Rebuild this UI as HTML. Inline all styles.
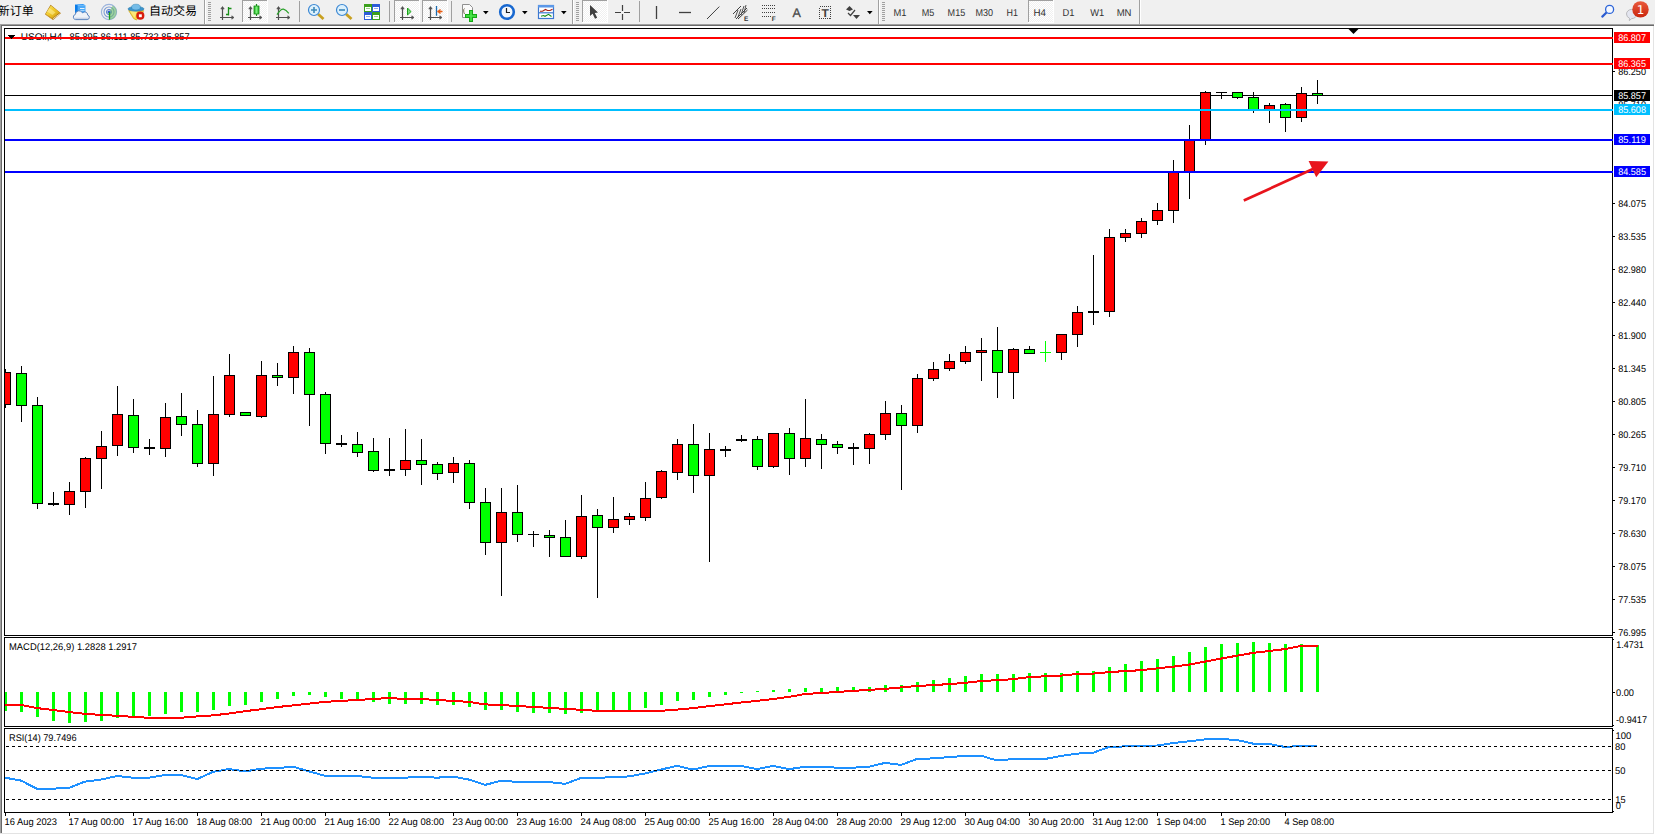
<!DOCTYPE html>
<html lang="zh"><head><meta charset="utf-8"><title>USOil,H4</title>
<style>html,body{margin:0;padding:0;background:#fff;}body{width:1655px;height:835px;overflow:hidden;position:relative;}svg{position:absolute;left:0;top:0;display:block;font-family:"Liberation Sans", "Noto Sans CJK SC", sans-serif;}svg text{white-space:pre;text-rendering:geometricPrecision;}</style></head><body>
<svg width="1655" height="835" viewBox="0 0 1655 835">
<g shape-rendering="crispEdges">
<rect x="0" y="0" width="1655" height="835" fill="#fff"/>
<rect x="0" y="0" width="1654" height="24" fill="#f0f0f0"/>
<rect x="0" y="24" width="1654" height="1" fill="#a0a0a0"/>
<rect x="0" y="25" width="1654" height="1" fill="#696969"/>
<rect x="0" y="24" width="1" height="810" fill="#a0a0a0"/>
<rect x="1" y="25" width="1" height="809" fill="#696969"/>
<rect x="1653" y="26" width="1" height="808" fill="#e3e3e3"/>
<rect x="0" y="833" width="1654" height="1" fill="#e3e3e3"/>
<rect x="1654" y="0" width="1" height="24" fill="#f0f0f0"/>
</g>
<defs><pattern id="chk" width="2" height="2" patternUnits="userSpaceOnUse"><rect width="2" height="2" fill="#f0f0f0"/><rect width="1" height="1" fill="#fff"/><rect x="1" y="1" width="1" height="1" fill="#fff"/></pattern><linearGradient id="gold" x1="0" y1="0" x2="1" y2="1"><stop offset="0" stop-color="#f8e468"/><stop offset="0.5" stop-color="#f0c828"/><stop offset="1" stop-color="#c89414"/></linearGradient><linearGradient id="redc" x1="0" y1="0" x2="0" y2="1"><stop offset="0" stop-color="#ea5a3c"/><stop offset="1" stop-color="#c9260e"/></linearGradient><linearGradient id="grn" x1="0" y1="0" x2="1" y2="0"><stop offset="0" stop-color="#1fae1f"/><stop offset="0.5" stop-color="#7cf07c"/><stop offset="1" stop-color="#1fae1f"/></linearGradient></defs>
<text x="-2.3" y="15" font-size="12" fill="#000">新订单</text>
<g><polygon points="50.6,4.8 61,13.3 53,20 45,14.3" fill="#a8700c"/><polygon points="50.8,5.4 59.8,12.4 52.3,18.2 45.6,13.9" fill="url(#gold)"/><polygon points="49.5,8 55.5,12.6 52.5,15 47,11.5" fill="#fff0a0" opacity="0.55"/><path d="M52.8,18.9L60.4,13.4" stroke="#f4e4b4" stroke-width="0.9"/><path d="M46,14.6L52.4,19" stroke="#d8a838" stroke-width="0.8"/></g>
<g><polygon points="75,4.5 83,4.1 85.5,5.3 77.9,5.3" fill="#2c98f8"/><polygon points="75,4.5 77.9,5.3 77.9,13.5 75,12.8" fill="#0a7ce8"/><rect x="77.9" y="5.3" width="7.6" height="8" fill="#4caaf8"/><rect x="80" y="8" width="4.5" height="1" fill="#e4f2ff"/><rect x="80" y="10" width="4.5" height="0.8" fill="#b4dcff"/><path d="M75.6,19.6 a2.6,2.6 0 0 1 -0.3,-5.1 a3.8,3.8 0 0 1 7.2,-1.6 a3,3 0 0 1 5.2,2.2 a2.3,2.3 0 0 1 -0.6,4.5z" fill="#eef2f8" stroke="#4c78b8" stroke-width="0.9"/><path d="M74.5,18.3H88" stroke="#c4d0e4" stroke-width="1.2"/></g>
<g fill="none"><circle cx="109" cy="12" r="7.6" stroke="#9cb4dc" stroke-width="1.1"/><circle cx="109" cy="12" r="5" stroke="#7c9cd4" stroke-width="1.1"/><circle cx="109" cy="12" r="2.6" stroke="#5c84cc" stroke-width="1"/><path d="M109,12 L112.8,5.4 A7.6,7.6 0 0 1 109,19.6z" fill="#6cbc6c" opacity="0.6"/><circle cx="109" cy="12" r="1.6" fill="#2c5cd0"/><path d="M109.5,12V19.6" stroke="#18a018" stroke-width="1.3"/></g>
<g><polygon points="128.7,10.6 143.6,10.6 141.7,15.3 136.3,19.9 133.7,18.6" fill="#f8d840" stroke="#c8a010" stroke-width="0.7"/><polygon points="130,11 137,11 134.5,18" fill="#fff4a0" opacity="0.6"/><ellipse cx="136" cy="8.9" rx="8" ry="2.4" fill="#3c94cc" stroke="#2878a8" stroke-width="0.5"/><ellipse cx="136" cy="7.1" rx="4.4" ry="2.9" fill="#74bce8" stroke="#2c80b4" stroke-width="0.5"/><circle cx="140.3" cy="15.7" r="4.1" fill="#d81c0c"/><rect x="138.9" y="14.3" width="2.9" height="2.9" fill="#fff"/></g>
<text x="149" y="14.9" font-size="12" fill="#000">自动交易</text>
<rect x="204" y="0" width="1" height="24" fill="#a0a0a0" shape-rendering="crispEdges"/><rect x="205" y="0" width="1" height="24" fill="#fff" shape-rendering="crispEdges"/>
<rect x="208" y="2" width="3" height="1" fill="#a0a0a0" shape-rendering="crispEdges"/>
<rect x="208" y="4" width="3" height="1" fill="#a0a0a0" shape-rendering="crispEdges"/>
<rect x="208" y="6" width="3" height="1" fill="#a0a0a0" shape-rendering="crispEdges"/>
<rect x="208" y="8" width="3" height="1" fill="#a0a0a0" shape-rendering="crispEdges"/>
<rect x="208" y="10" width="3" height="1" fill="#a0a0a0" shape-rendering="crispEdges"/>
<rect x="208" y="12" width="3" height="1" fill="#a0a0a0" shape-rendering="crispEdges"/>
<rect x="208" y="14" width="3" height="1" fill="#a0a0a0" shape-rendering="crispEdges"/>
<rect x="208" y="16" width="3" height="1" fill="#a0a0a0" shape-rendering="crispEdges"/>
<rect x="208" y="18" width="3" height="1" fill="#a0a0a0" shape-rendering="crispEdges"/>
<rect x="208" y="20" width="3" height="1" fill="#a0a0a0" shape-rendering="crispEdges"/>
<g stroke="#505050" stroke-width="1.2" fill="none"><path d="M222.5,7V20M220,17.5H233.5"/><path stroke-width="0.6" fill="#505050" d="M220.8,9 L222.5,6.5 L224.2,9zM231.8,15.8 L234,17.5 L231.8,19.2z"/></g>
<path d="M228.5,7V15.5M228.5,8.5H231.5M226,14.5H228.5" stroke="#189018" stroke-width="1.3" fill="none"/>
<g shape-rendering="crispEdges"><rect x="242" y="0" width="25" height="22" fill="url(#chk)"/><rect x="242" y="0" width="25" height="1" fill="#a0a0a0"/><rect x="242" y="0" width="1" height="22" fill="#a0a0a0"/><rect x="242" y="22" width="26" height="1" fill="#fff"/><rect x="267" y="0" width="1" height="22" fill="#fff"/></g>
<g stroke="#505050" stroke-width="1.2" fill="none"><path d="M250.5,7V20M248,17.5H261.5"/><path stroke-width="0.6" fill="#505050" d="M248.8,9 L250.5,6.5 L252.2,9zM259.8,15.8 L262,17.5 L259.8,19.2z"/></g>
<path d="M256.5,4V16" stroke="#189018" stroke-width="1.2"/><rect x="254" y="6" width="5" height="8" fill="url(#grn)" stroke="#189018" stroke-width="0.8"/>
<g stroke="#505050" stroke-width="1.2" fill="none"><path d="M278.5,7V20M276,17.5H289.5"/><path stroke-width="0.6" fill="#505050" d="M276.8,9 L278.5,6.5 L280.2,9zM287.8,15.8 L290,17.5 L287.8,19.2z"/></g>
<path d="M277,14.6 Q281,8.6 283.5,9.2 T288.8,13.3" stroke="#28a028" stroke-width="1.2" fill="none"/>
<rect x="299" y="1" width="1" height="21" fill="#a0a0a0" shape-rendering="crispEdges"/>
<g><path d="M318,14 L323.5,19" stroke="#c8a020" stroke-width="2.8" stroke-linecap="butt"/><circle cx="314" cy="10" r="5.5" fill="#dcf0fc" stroke="#3c88d4" stroke-width="1.2"/><path d="M311,10H317M314,7V13" stroke="#3c88b8" stroke-width="1.6"/></g>
<g><path d="M346,14 L351.5,19" stroke="#c8a020" stroke-width="2.8" stroke-linecap="butt"/><circle cx="342" cy="10" r="5.5" fill="#dcf0fc" stroke="#3c88d4" stroke-width="1.2"/><path d="M339,10H345" stroke="#3c88b8" stroke-width="1.6"/></g>
<g shape-rendering="crispEdges"><rect x="364" y="4" width="8" height="8" fill="#3ca01c"/><rect x="372" y="4" width="8" height="8" fill="#2c5cd8"/><rect x="364" y="12" width="8" height="8" fill="#2c5cd8"/><rect x="372" y="12" width="8" height="8" fill="#3ca01c"/><rect x="365" y="7" width="6" height="4" fill="#fff"/><rect x="373" y="7" width="6" height="4" fill="#fff"/><rect x="365" y="15" width="6" height="4" fill="#fff"/><rect x="373" y="15" width="6" height="4" fill="#fff"/><rect x="366" y="8" width="4" height="1" fill="#9cd48c"/><rect x="374" y="8" width="4" height="1" fill="#8cacf0"/><rect x="366" y="16" width="4" height="1" fill="#8cacf0"/><rect x="374" y="16" width="4" height="1" fill="#9cd48c"/></g>
<rect x="389" y="1" width="1" height="21" fill="#a0a0a0" shape-rendering="crispEdges"/>
<g shape-rendering="crispEdges"><rect x="394" y="0" width="25" height="22" fill="url(#chk)"/><rect x="394" y="0" width="25" height="1" fill="#a0a0a0"/><rect x="394" y="0" width="1" height="22" fill="#a0a0a0"/><rect x="394" y="22" width="26" height="1" fill="#fff"/><rect x="419" y="0" width="1" height="22" fill="#fff"/></g>
<g stroke="#505050" stroke-width="1.2" fill="none"><path d="M402.5,7V20M400,17.5H413.5"/><path stroke-width="0.6" fill="#505050" d="M400.8,9 L402.5,6.5 L404.2,9zM411.8,15.8 L414,17.5 L411.8,19.2z"/></g>
<polygon points="407.5,8 411,11.6 407.5,15" fill="#7ce07c" stroke="#18a018" stroke-width="1"/>
<g shape-rendering="crispEdges"><rect x="422" y="0" width="25" height="22" fill="url(#chk)"/><rect x="422" y="0" width="25" height="1" fill="#a0a0a0"/><rect x="422" y="0" width="1" height="22" fill="#a0a0a0"/><rect x="422" y="22" width="26" height="1" fill="#fff"/><rect x="447" y="0" width="1" height="22" fill="#fff"/></g>
<g stroke="#505050" stroke-width="1.2" fill="none"><path d="M430.5,7V20M428,17.5H441.5"/><path stroke-width="0.6" fill="#505050" d="M428.8,9 L430.5,6.5 L432.2,9zM439.8,15.8 L442,17.5 L439.8,19.2z"/></g>
<path d="M436.5,6V15.8" stroke="#1c6cb0" stroke-width="1.3"/><path d="M437.5,11.5H442.5M440.5,9.5L438,11.5L440.5,13.5" stroke="#e85c10" stroke-width="1.3" fill="none"/>
<rect x="451" y="1" width="1" height="21" fill="#a0a0a0" shape-rendering="crispEdges"/>
<g><path d="M462.5,4.5H469.5L472.5,7.5V17.5H462.5z" fill="#fafafa" stroke="#909090" stroke-width="1"/><path d="M464.5,8.5C463,9 463.8,13 464.5,14" stroke="#686040" fill="none" stroke-width="0.9"/><path d="M471,10V22M465,16H477" stroke="#14a814" stroke-width="4"/><path d="M471,11V21M466,16H476" stroke="#4ce84c" stroke-width="1.6"/></g>
<polygon points="483,11.1 488.6,11.1 485.8,14.3" fill="#000"/>
<g><circle cx="507" cy="12" r="6.8" fill="#f4f8fc" stroke="#1868d0" stroke-width="2.6"/><path d="M506.5,8V12.5H510" stroke="#202020" stroke-width="1.2" fill="none"/></g>
<polygon points="522,11.1 527.6,11.1 524.8,14.3" fill="#000"/>
<g><rect x="538.5" y="5.5" width="15" height="13" fill="#fff" stroke="#3c78d0" stroke-width="1.2"/><rect x="538" y="5" width="16" height="2.5" fill="#5c98e8"/><path d="M538,12.8H554" stroke="#3c78d0" stroke-width="1.2"/><path d="M540,11.3H542.5L545.5,9.5L547.5,10.5H550L552.5,9.3" stroke="#a82010" stroke-width="1.1" fill="none"/><path d="M541,16.3L543.5,15.5L545,16.3L548.5,14.3L551.5,16.5" stroke="#189018" stroke-width="1.1" fill="none"/></g>
<polygon points="561,11.1 566.6,11.1 563.8,14.3" fill="#000"/>
<rect x="572" y="0" width="1" height="24" fill="#a0a0a0" shape-rendering="crispEdges"/><rect x="573" y="0" width="1" height="24" fill="#fff" shape-rendering="crispEdges"/>
<rect x="576" y="2" width="3" height="1" fill="#a0a0a0" shape-rendering="crispEdges"/>
<rect x="576" y="4" width="3" height="1" fill="#a0a0a0" shape-rendering="crispEdges"/>
<rect x="576" y="6" width="3" height="1" fill="#a0a0a0" shape-rendering="crispEdges"/>
<rect x="576" y="8" width="3" height="1" fill="#a0a0a0" shape-rendering="crispEdges"/>
<rect x="576" y="10" width="3" height="1" fill="#a0a0a0" shape-rendering="crispEdges"/>
<rect x="576" y="12" width="3" height="1" fill="#a0a0a0" shape-rendering="crispEdges"/>
<rect x="576" y="14" width="3" height="1" fill="#a0a0a0" shape-rendering="crispEdges"/>
<rect x="576" y="16" width="3" height="1" fill="#a0a0a0" shape-rendering="crispEdges"/>
<rect x="576" y="18" width="3" height="1" fill="#a0a0a0" shape-rendering="crispEdges"/>
<rect x="576" y="20" width="3" height="1" fill="#a0a0a0" shape-rendering="crispEdges"/>
<g shape-rendering="crispEdges"><rect x="582" y="0" width="25" height="22" fill="url(#chk)"/><rect x="582" y="0" width="25" height="1" fill="#a0a0a0"/><rect x="582" y="0" width="1" height="22" fill="#a0a0a0"/><rect x="582" y="22" width="26" height="1" fill="#fff"/><rect x="607" y="0" width="1" height="22" fill="#fff"/></g>
<polygon points="590,5 590,16 592.6,13.8 595,18.8 597.2,17.8 594.8,13 598,12.6" fill="#404040"/>
<path d="M615,12.5H621M624,12.5H630M622.5,5V11M622.5,14V20" stroke="#404040" stroke-width="1.2"/>
<rect x="639" y="1" width="1" height="21" fill="#a0a0a0" shape-rendering="crispEdges"/>
<path d="M656.5,6V19" stroke="#404040" stroke-width="1.3"/>
<path d="M679,12.5H691" stroke="#404040" stroke-width="1.3"/>
<path d="M707,19L719.3,6.6" stroke="#404040" stroke-width="1"/>
<g stroke="#404040" stroke-width="1" fill="none"><path d="M733,14L741,6M736,19L747,8M738,19L747.5,10"/><path d="M735,18L738,10M738,17L741,9M741,15L744,6M744,13L746,5" stroke-width="0.9"/></g>
<text x="744" y="21" font-size="6.5" font-weight="bold" fill="#303030">E</text>
<path d="M762,5.5H775.5" stroke="#404040" stroke-width="1" stroke-dasharray="1,1" shape-rendering="crispEdges"/>
<path d="M762,8.5H775.5" stroke="#404040" stroke-width="1" stroke-dasharray="1,1" shape-rendering="crispEdges"/>
<path d="M762,12.5H775.5" stroke="#404040" stroke-width="1" stroke-dasharray="1,1" shape-rendering="crispEdges"/>
<path d="M762,16.5H771" stroke="#404040" stroke-width="1" stroke-dasharray="1,1" shape-rendering="crispEdges"/>
<text x="771.8" y="21" font-size="6.5" font-weight="bold" fill="#303030">F</text>
<text x="792.5" y="17" font-size="12.5" fill="#484848" stroke="#484848" stroke-width="0.3">A</text>
<rect x="819.5" y="6.5" width="11" height="12" fill="none" stroke="#404040" stroke-width="1" stroke-dasharray="1,1" shape-rendering="crispEdges"/><text x="821.6" y="17.2" font-size="11.2" font-weight="bold" fill="#404040" textLength="7.4" lengthAdjust="spacingAndGlyphs">T</text>
<g fill="#404040"><polygon points="846,9.5 849.5,6 853,9.5 849.5,11"/><polygon points="853,15 860,15 856.5,19"/><path d="M848,13L850.5,15.5L855,10" stroke="#404040" stroke-width="1.2" fill="none"/></g>
<polygon points="867,11.1 872.6,11.1 869.8,14.3" fill="#000"/>
<rect x="878" y="0" width="1" height="24" fill="#a0a0a0" shape-rendering="crispEdges"/><rect x="879" y="0" width="1" height="24" fill="#fff" shape-rendering="crispEdges"/>
<rect x="882" y="2" width="3" height="1" fill="#a0a0a0" shape-rendering="crispEdges"/>
<rect x="882" y="4" width="3" height="1" fill="#a0a0a0" shape-rendering="crispEdges"/>
<rect x="882" y="6" width="3" height="1" fill="#a0a0a0" shape-rendering="crispEdges"/>
<rect x="882" y="8" width="3" height="1" fill="#a0a0a0" shape-rendering="crispEdges"/>
<rect x="882" y="10" width="3" height="1" fill="#a0a0a0" shape-rendering="crispEdges"/>
<rect x="882" y="12" width="3" height="1" fill="#a0a0a0" shape-rendering="crispEdges"/>
<rect x="882" y="14" width="3" height="1" fill="#a0a0a0" shape-rendering="crispEdges"/>
<rect x="882" y="16" width="3" height="1" fill="#a0a0a0" shape-rendering="crispEdges"/>
<rect x="882" y="18" width="3" height="1" fill="#a0a0a0" shape-rendering="crispEdges"/>
<rect x="882" y="20" width="3" height="1" fill="#a0a0a0" shape-rendering="crispEdges"/>
<text x="893.4" y="16" font-size="10" fill="#303030" textLength="13" lengthAdjust="spacingAndGlyphs">M1</text>
<text x="921.7" y="16" font-size="10" fill="#303030" textLength="12.6" lengthAdjust="spacingAndGlyphs">M5</text>
<text x="947.6" y="16" font-size="10" fill="#303030" textLength="17.6" lengthAdjust="spacingAndGlyphs">M15</text>
<text x="975.5" y="16" font-size="10" fill="#303030" textLength="17.6" lengthAdjust="spacingAndGlyphs">M30</text>
<text x="1006.6" y="16" font-size="10" fill="#303030" textLength="11.4" lengthAdjust="spacingAndGlyphs">H1</text>
<g shape-rendering="crispEdges"><rect x="1028" y="0" width="25" height="22" fill="url(#chk)"/><rect x="1028" y="0" width="25" height="1" fill="#a0a0a0"/><rect x="1028" y="0" width="1" height="22" fill="#a0a0a0"/><rect x="1028" y="22" width="26" height="1" fill="#fff"/><rect x="1053" y="0" width="1" height="22" fill="#fff"/></g>
<text x="1033.5" y="16" font-size="10" fill="#303030" textLength="12.5" lengthAdjust="spacingAndGlyphs">H4</text>
<text x="1062.4" y="16" font-size="10" fill="#303030" textLength="12" lengthAdjust="spacingAndGlyphs">D1</text>
<text x="1090.3" y="16" font-size="10" fill="#303030" textLength="14" lengthAdjust="spacingAndGlyphs">W1</text>
<text x="1116.7" y="16" font-size="10" fill="#303030" textLength="14.8" lengthAdjust="spacingAndGlyphs">MN</text>
<rect x="1139" y="0" width="1" height="24" fill="#a0a0a0" shape-rendering="crispEdges"/><rect x="1140" y="0" width="1" height="24" fill="#fff" shape-rendering="crispEdges"/>
<g><path d="M1606.5,12.5L1602.3,16.6" stroke="#2c5cd0" stroke-width="2.2" stroke-linecap="round"/><circle cx="1609.6" cy="9.4" r="4" fill="#f4f8ff" stroke="#2c64d8" stroke-width="1.3"/></g>
<g><path d="M1626.5,14 a5.2,4.6 0 0 1 10.4,0 a5.2,4.6 0 0 1 -5.2,4.6 l-2.4,2 l0.2,-2.4 a5,4.6 0 0 1 -3,-4.2z" fill="#e4e6f0" stroke="#b4b4b8" stroke-width="0.9"/><circle cx="1640.5" cy="9.4" r="8.2" fill="url(#redc)"/><text x="1640.5" y="13.8" font-size="12" fill="#fff" text-anchor="middle" font-family="'DejaVu Sans', sans-serif">1</text></g>
<g shape-rendering="crispEdges">
<rect x="4" y="28" width="1609" height="1" fill="#000"/>
<rect x="4" y="635" width="1609" height="1" fill="#000"/>
<rect x="4" y="28" width="1" height="608" fill="#000"/>
<rect x="1612" y="28" width="1" height="608" fill="#000"/>
<rect x="4" y="637" width="1609" height="1" fill="#000"/>
<rect x="4" y="726" width="1609" height="1" fill="#000"/>
<rect x="4" y="637" width="1" height="90" fill="#000"/>
<rect x="1612" y="637" width="1" height="90" fill="#000"/>
<rect x="4" y="728" width="1609" height="1" fill="#000"/>
<rect x="4" y="812" width="1609" height="1" fill="#000"/>
<rect x="4" y="728" width="1" height="85" fill="#000"/>
<rect x="1612" y="728" width="1" height="85" fill="#000"/>
<rect x="5" y="95" width="1607" height="1" fill="#000"/>
<rect x="5" y="369" width="1" height="39" fill="#000"/>
<rect x="5" y="372" width="6" height="33" fill="#000"/>
<rect x="5" y="373" width="5" height="31" fill="#ff0000"/>
<rect x="21" y="366" width="1" height="56" fill="#000"/>
<rect x="16" y="373" width="11" height="33" fill="#000"/>
<rect x="17" y="374" width="9" height="31" fill="#00ff00"/>
<rect x="37" y="397" width="1" height="112" fill="#000"/>
<rect x="32" y="405" width="11" height="99" fill="#000"/>
<rect x="33" y="406" width="9" height="97" fill="#00ff00"/>
<rect x="53" y="492" width="1" height="14" fill="#000"/>
<rect x="48" y="503" width="11" height="2" fill="#000"/>
<rect x="69" y="482" width="1" height="33" fill="#000"/>
<rect x="64" y="491" width="11" height="14" fill="#000"/>
<rect x="65" y="492" width="9" height="12" fill="#ff0000"/>
<rect x="85" y="457" width="1" height="51" fill="#000"/>
<rect x="80" y="458" width="11" height="34" fill="#000"/>
<rect x="81" y="459" width="9" height="32" fill="#ff0000"/>
<rect x="101" y="431" width="1" height="58" fill="#000"/>
<rect x="96" y="446" width="11" height="13" fill="#000"/>
<rect x="97" y="447" width="9" height="11" fill="#ff0000"/>
<rect x="117" y="386" width="1" height="70" fill="#000"/>
<rect x="112" y="414" width="11" height="32" fill="#000"/>
<rect x="113" y="415" width="9" height="30" fill="#ff0000"/>
<rect x="133" y="399" width="1" height="54" fill="#000"/>
<rect x="128" y="415" width="11" height="33" fill="#000"/>
<rect x="129" y="416" width="9" height="31" fill="#00ff00"/>
<rect x="149" y="439" width="1" height="16" fill="#000"/>
<rect x="144" y="447" width="11" height="2" fill="#000"/>
<rect x="165" y="403" width="1" height="54" fill="#000"/>
<rect x="160" y="417" width="11" height="32" fill="#000"/>
<rect x="161" y="418" width="9" height="30" fill="#ff0000"/>
<rect x="181" y="393" width="1" height="43" fill="#000"/>
<rect x="176" y="416" width="11" height="9" fill="#000"/>
<rect x="177" y="417" width="9" height="7" fill="#00ff00"/>
<rect x="197" y="410" width="1" height="57" fill="#000"/>
<rect x="192" y="424" width="11" height="40" fill="#000"/>
<rect x="193" y="425" width="9" height="38" fill="#00ff00"/>
<rect x="213" y="376" width="1" height="100" fill="#000"/>
<rect x="208" y="414" width="11" height="50" fill="#000"/>
<rect x="209" y="415" width="9" height="48" fill="#ff0000"/>
<rect x="229" y="354" width="1" height="63" fill="#000"/>
<rect x="224" y="375" width="11" height="40" fill="#000"/>
<rect x="225" y="376" width="9" height="38" fill="#ff0000"/>
<rect x="245" y="412" width="1" height="4" fill="#000"/>
<rect x="240" y="412" width="11" height="4" fill="#000"/>
<rect x="241" y="413" width="9" height="2" fill="#00ff00"/>
<rect x="261" y="361" width="1" height="57" fill="#000"/>
<rect x="256" y="375" width="11" height="42" fill="#000"/>
<rect x="257" y="376" width="9" height="40" fill="#ff0000"/>
<rect x="277" y="363" width="1" height="23" fill="#000"/>
<rect x="272" y="375" width="11" height="3" fill="#000"/>
<rect x="273" y="376" width="9" height="1" fill="#00ff00"/>
<rect x="293" y="346" width="1" height="48" fill="#000"/>
<rect x="288" y="352" width="11" height="26" fill="#000"/>
<rect x="289" y="353" width="9" height="24" fill="#ff0000"/>
<rect x="309" y="348" width="1" height="78" fill="#000"/>
<rect x="304" y="352" width="11" height="43" fill="#000"/>
<rect x="305" y="353" width="9" height="41" fill="#00ff00"/>
<rect x="325" y="392" width="1" height="62" fill="#000"/>
<rect x="320" y="394" width="11" height="50" fill="#000"/>
<rect x="321" y="395" width="9" height="48" fill="#00ff00"/>
<rect x="341" y="435" width="1" height="12" fill="#000"/>
<rect x="336" y="443" width="11" height="2" fill="#000"/>
<rect x="357" y="432" width="1" height="25" fill="#000"/>
<rect x="352" y="444" width="11" height="9" fill="#000"/>
<rect x="353" y="445" width="9" height="7" fill="#00ff00"/>
<rect x="373" y="438" width="1" height="34" fill="#000"/>
<rect x="368" y="451" width="11" height="20" fill="#000"/>
<rect x="369" y="452" width="9" height="18" fill="#00ff00"/>
<rect x="389" y="438" width="1" height="38" fill="#000"/>
<rect x="384" y="469" width="11" height="2" fill="#000"/>
<rect x="405" y="429" width="1" height="47" fill="#000"/>
<rect x="400" y="460" width="11" height="10" fill="#000"/>
<rect x="401" y="461" width="9" height="8" fill="#ff0000"/>
<rect x="421" y="439" width="1" height="46" fill="#000"/>
<rect x="416" y="460" width="11" height="5" fill="#000"/>
<rect x="417" y="461" width="9" height="3" fill="#00ff00"/>
<rect x="437" y="462" width="1" height="18" fill="#000"/>
<rect x="432" y="464" width="11" height="10" fill="#000"/>
<rect x="433" y="465" width="9" height="8" fill="#00ff00"/>
<rect x="453" y="457" width="1" height="26" fill="#000"/>
<rect x="448" y="463" width="11" height="10" fill="#000"/>
<rect x="449" y="464" width="9" height="8" fill="#ff0000"/>
<rect x="469" y="460" width="1" height="49" fill="#000"/>
<rect x="464" y="463" width="11" height="40" fill="#000"/>
<rect x="465" y="464" width="9" height="38" fill="#00ff00"/>
<rect x="485" y="488" width="1" height="67" fill="#000"/>
<rect x="480" y="502" width="11" height="41" fill="#000"/>
<rect x="481" y="503" width="9" height="39" fill="#00ff00"/>
<rect x="501" y="488" width="1" height="108" fill="#000"/>
<rect x="496" y="512" width="11" height="31" fill="#000"/>
<rect x="497" y="513" width="9" height="29" fill="#ff0000"/>
<rect x="517" y="485" width="1" height="57" fill="#000"/>
<rect x="512" y="512" width="11" height="23" fill="#000"/>
<rect x="513" y="513" width="9" height="21" fill="#00ff00"/>
<rect x="533" y="531" width="1" height="16" fill="#000"/>
<rect x="528" y="534" width="11" height="1" fill="#000"/>
<rect x="549" y="530" width="1" height="27" fill="#000"/>
<rect x="544" y="535" width="11" height="3" fill="#000"/>
<rect x="545" y="536" width="9" height="1" fill="#00ff00"/>
<rect x="565" y="520" width="1" height="37" fill="#000"/>
<rect x="560" y="537" width="11" height="20" fill="#000"/>
<rect x="561" y="538" width="9" height="18" fill="#00ff00"/>
<rect x="581" y="495" width="1" height="64" fill="#000"/>
<rect x="576" y="516" width="11" height="41" fill="#000"/>
<rect x="577" y="517" width="9" height="39" fill="#ff0000"/>
<rect x="597" y="509" width="1" height="89" fill="#000"/>
<rect x="592" y="515" width="11" height="13" fill="#000"/>
<rect x="593" y="516" width="9" height="11" fill="#00ff00"/>
<rect x="613" y="497" width="1" height="36" fill="#000"/>
<rect x="608" y="519" width="11" height="9" fill="#000"/>
<rect x="609" y="520" width="9" height="7" fill="#ff0000"/>
<rect x="629" y="513" width="1" height="12" fill="#000"/>
<rect x="624" y="516" width="11" height="4" fill="#000"/>
<rect x="625" y="517" width="9" height="2" fill="#ff0000"/>
<rect x="645" y="482" width="1" height="39" fill="#000"/>
<rect x="640" y="498" width="11" height="20" fill="#000"/>
<rect x="641" y="499" width="9" height="18" fill="#ff0000"/>
<rect x="661" y="470" width="1" height="29" fill="#000"/>
<rect x="656" y="471" width="11" height="27" fill="#000"/>
<rect x="657" y="472" width="9" height="25" fill="#ff0000"/>
<rect x="677" y="439" width="1" height="41" fill="#000"/>
<rect x="672" y="444" width="11" height="29" fill="#000"/>
<rect x="673" y="445" width="9" height="27" fill="#ff0000"/>
<rect x="693" y="424" width="1" height="69" fill="#000"/>
<rect x="688" y="444" width="11" height="32" fill="#000"/>
<rect x="689" y="445" width="9" height="30" fill="#00ff00"/>
<rect x="709" y="433" width="1" height="129" fill="#000"/>
<rect x="704" y="449" width="11" height="27" fill="#000"/>
<rect x="705" y="450" width="9" height="25" fill="#ff0000"/>
<rect x="725" y="446" width="1" height="11" fill="#000"/>
<rect x="720" y="449" width="11" height="2" fill="#000"/>
<rect x="741" y="435" width="1" height="7" fill="#000"/>
<rect x="736" y="439" width="11" height="2" fill="#000"/>
<rect x="757" y="436" width="1" height="34" fill="#000"/>
<rect x="752" y="439" width="11" height="28" fill="#000"/>
<rect x="753" y="440" width="9" height="26" fill="#00ff00"/>
<rect x="773" y="433" width="1" height="35" fill="#000"/>
<rect x="768" y="433" width="11" height="34" fill="#000"/>
<rect x="769" y="434" width="9" height="32" fill="#ff0000"/>
<rect x="789" y="428" width="1" height="47" fill="#000"/>
<rect x="784" y="433" width="11" height="26" fill="#000"/>
<rect x="785" y="434" width="9" height="24" fill="#00ff00"/>
<rect x="805" y="399" width="1" height="68" fill="#000"/>
<rect x="800" y="438" width="11" height="21" fill="#000"/>
<rect x="801" y="439" width="9" height="19" fill="#ff0000"/>
<rect x="821" y="434" width="1" height="35" fill="#000"/>
<rect x="816" y="439" width="11" height="6" fill="#000"/>
<rect x="817" y="440" width="9" height="4" fill="#00ff00"/>
<rect x="837" y="441" width="1" height="13" fill="#000"/>
<rect x="832" y="444" width="11" height="4" fill="#000"/>
<rect x="833" y="445" width="9" height="2" fill="#00ff00"/>
<rect x="853" y="443" width="1" height="22" fill="#000"/>
<rect x="848" y="447" width="11" height="2" fill="#000"/>
<rect x="869" y="433" width="1" height="31" fill="#000"/>
<rect x="864" y="434" width="11" height="15" fill="#000"/>
<rect x="865" y="435" width="9" height="13" fill="#ff0000"/>
<rect x="885" y="401" width="1" height="39" fill="#000"/>
<rect x="880" y="413" width="11" height="22" fill="#000"/>
<rect x="881" y="414" width="9" height="20" fill="#ff0000"/>
<rect x="901" y="405" width="1" height="85" fill="#000"/>
<rect x="896" y="413" width="11" height="13" fill="#000"/>
<rect x="897" y="414" width="9" height="11" fill="#00ff00"/>
<rect x="917" y="374" width="1" height="59" fill="#000"/>
<rect x="912" y="378" width="11" height="48" fill="#000"/>
<rect x="913" y="379" width="9" height="46" fill="#ff0000"/>
<rect x="933" y="362" width="1" height="19" fill="#000"/>
<rect x="928" y="369" width="11" height="10" fill="#000"/>
<rect x="929" y="370" width="9" height="8" fill="#ff0000"/>
<rect x="949" y="354" width="1" height="17" fill="#000"/>
<rect x="944" y="361" width="11" height="8" fill="#000"/>
<rect x="945" y="362" width="9" height="6" fill="#ff0000"/>
<rect x="965" y="346" width="1" height="18" fill="#000"/>
<rect x="960" y="352" width="11" height="10" fill="#000"/>
<rect x="961" y="353" width="9" height="8" fill="#ff0000"/>
<rect x="981" y="338" width="1" height="43" fill="#000"/>
<rect x="976" y="350" width="11" height="3" fill="#000"/>
<rect x="977" y="351" width="9" height="1" fill="#ff0000"/>
<rect x="997" y="327" width="1" height="71" fill="#000"/>
<rect x="992" y="350" width="11" height="23" fill="#000"/>
<rect x="993" y="351" width="9" height="21" fill="#00ff00"/>
<rect x="1013" y="348" width="1" height="51" fill="#000"/>
<rect x="1008" y="349" width="11" height="24" fill="#000"/>
<rect x="1009" y="350" width="9" height="22" fill="#ff0000"/>
<rect x="1029" y="346" width="1" height="8" fill="#000"/>
<rect x="1024" y="349" width="11" height="5" fill="#000"/>
<rect x="1025" y="350" width="9" height="3" fill="#00ff00"/>
<rect x="1045" y="341" width="1" height="21" fill="#00ff00"/>
<rect x="1040" y="352" width="11" height="1" fill="#00ff00"/>
<rect x="1061" y="334" width="1" height="26" fill="#000"/>
<rect x="1056" y="334" width="11" height="19" fill="#000"/>
<rect x="1057" y="335" width="9" height="17" fill="#ff0000"/>
<rect x="1077" y="306" width="1" height="41" fill="#000"/>
<rect x="1072" y="312" width="11" height="23" fill="#000"/>
<rect x="1073" y="313" width="9" height="21" fill="#ff0000"/>
<rect x="1093" y="255" width="1" height="70" fill="#000"/>
<rect x="1088" y="311" width="11" height="2" fill="#000"/>
<rect x="1109" y="229" width="1" height="88" fill="#000"/>
<rect x="1104" y="237" width="11" height="75" fill="#000"/>
<rect x="1105" y="238" width="9" height="73" fill="#ff0000"/>
<rect x="1125" y="229" width="1" height="13" fill="#000"/>
<rect x="1120" y="233" width="11" height="5" fill="#000"/>
<rect x="1121" y="234" width="9" height="3" fill="#ff0000"/>
<rect x="1141" y="218" width="1" height="20" fill="#000"/>
<rect x="1136" y="221" width="11" height="13" fill="#000"/>
<rect x="1137" y="222" width="9" height="11" fill="#ff0000"/>
<rect x="1157" y="203" width="1" height="22" fill="#000"/>
<rect x="1152" y="210" width="11" height="11" fill="#000"/>
<rect x="1153" y="211" width="9" height="9" fill="#ff0000"/>
<rect x="1173" y="160" width="1" height="63" fill="#000"/>
<rect x="1168" y="172" width="11" height="39" fill="#000"/>
<rect x="1169" y="173" width="9" height="37" fill="#ff0000"/>
<rect x="1189" y="125" width="1" height="74" fill="#000"/>
<rect x="1184" y="140" width="11" height="32" fill="#000"/>
<rect x="1185" y="141" width="9" height="30" fill="#ff0000"/>
<rect x="1205" y="91" width="1" height="54" fill="#000"/>
<rect x="1200" y="92" width="11" height="48" fill="#000"/>
<rect x="1201" y="93" width="9" height="46" fill="#ff0000"/>
<rect x="1221" y="92" width="1" height="7" fill="#000"/>
<rect x="1216" y="92" width="11" height="1" fill="#000"/>
<rect x="1237" y="92" width="1" height="7" fill="#000"/>
<rect x="1232" y="92" width="11" height="6" fill="#000"/>
<rect x="1233" y="93" width="9" height="4" fill="#00ff00"/>
<rect x="1253" y="92" width="1" height="21" fill="#000"/>
<rect x="1248" y="97" width="11" height="13" fill="#000"/>
<rect x="1249" y="98" width="9" height="11" fill="#00ff00"/>
<rect x="1269" y="103" width="1" height="20" fill="#000"/>
<rect x="1264" y="105" width="11" height="5" fill="#000"/>
<rect x="1265" y="106" width="9" height="3" fill="#ff0000"/>
<rect x="1285" y="103" width="1" height="29" fill="#000"/>
<rect x="1280" y="104" width="11" height="14" fill="#000"/>
<rect x="1281" y="105" width="9" height="12" fill="#00ff00"/>
<rect x="1301" y="87" width="1" height="35" fill="#000"/>
<rect x="1296" y="93" width="11" height="25" fill="#000"/>
<rect x="1297" y="94" width="9" height="23" fill="#ff0000"/>
<rect x="1317" y="80" width="1" height="24" fill="#000"/>
<rect x="1312" y="93" width="11" height="3" fill="#000"/>
<rect x="1313" y="94" width="9" height="1" fill="#00ff00"/>
<rect x="5" y="37" width="1608" height="2" fill="#ff0000"/>
<rect x="5" y="63" width="1608" height="2" fill="#ff0000"/>
<rect x="5" y="109" width="1608" height="2" fill="#00bfff"/>
<rect x="5" y="139" width="1608" height="2" fill="#0000ff"/>
<rect x="5" y="171" width="1608" height="2" fill="#0000ff"/>
<polygon points="1348.5,29 1358.5,29 1353.5,34" fill="#000" shape-rendering="auto"/>
<polygon points="7.5,34.5 15.5,34.5 11.5,38.8" fill="#000"/>
<rect x="5" y="692" width="2" height="19" fill="#00ff00"/>
<rect x="20" y="692" width="3" height="20" fill="#00ff00"/>
<rect x="36" y="692" width="3" height="25" fill="#00ff00"/>
<rect x="52" y="692" width="3" height="29" fill="#00ff00"/>
<rect x="68" y="692" width="3" height="31" fill="#00ff00"/>
<rect x="84" y="692" width="3" height="30" fill="#00ff00"/>
<rect x="100" y="692" width="3" height="29" fill="#00ff00"/>
<rect x="116" y="692" width="3" height="26" fill="#00ff00"/>
<rect x="132" y="692" width="3" height="26" fill="#00ff00"/>
<rect x="148" y="692" width="3" height="24" fill="#00ff00"/>
<rect x="164" y="692" width="3" height="22" fill="#00ff00"/>
<rect x="180" y="692" width="3" height="20" fill="#00ff00"/>
<rect x="196" y="692" width="3" height="20" fill="#00ff00"/>
<rect x="212" y="692" width="3" height="18" fill="#00ff00"/>
<rect x="228" y="692" width="3" height="14" fill="#00ff00"/>
<rect x="244" y="692" width="3" height="13" fill="#00ff00"/>
<rect x="260" y="692" width="3" height="10" fill="#00ff00"/>
<rect x="276" y="692" width="3" height="7" fill="#00ff00"/>
<rect x="292" y="692" width="3" height="4" fill="#00ff00"/>
<rect x="308" y="692" width="3" height="3" fill="#00ff00"/>
<rect x="324" y="692" width="3" height="5" fill="#00ff00"/>
<rect x="340" y="692" width="3" height="7" fill="#00ff00"/>
<rect x="356" y="692" width="3" height="7" fill="#00ff00"/>
<rect x="372" y="692" width="3" height="10" fill="#00ff00"/>
<rect x="388" y="692" width="3" height="12" fill="#00ff00"/>
<rect x="404" y="692" width="3" height="12" fill="#00ff00"/>
<rect x="420" y="692" width="3" height="12" fill="#00ff00"/>
<rect x="436" y="692" width="3" height="13" fill="#00ff00"/>
<rect x="452" y="692" width="3" height="13" fill="#00ff00"/>
<rect x="468" y="692" width="3" height="15" fill="#00ff00"/>
<rect x="484" y="692" width="3" height="18" fill="#00ff00"/>
<rect x="500" y="692" width="3" height="18" fill="#00ff00"/>
<rect x="516" y="692" width="3" height="20" fill="#00ff00"/>
<rect x="532" y="692" width="3" height="21" fill="#00ff00"/>
<rect x="548" y="692" width="3" height="21" fill="#00ff00"/>
<rect x="564" y="692" width="3" height="22" fill="#00ff00"/>
<rect x="580" y="692" width="3" height="21" fill="#00ff00"/>
<rect x="596" y="692" width="3" height="19" fill="#00ff00"/>
<rect x="612" y="692" width="3" height="19" fill="#00ff00"/>
<rect x="628" y="692" width="3" height="18" fill="#00ff00"/>
<rect x="644" y="692" width="3" height="16" fill="#00ff00"/>
<rect x="660" y="692" width="3" height="13" fill="#00ff00"/>
<rect x="676" y="692" width="3" height="9" fill="#00ff00"/>
<rect x="692" y="692" width="3" height="8" fill="#00ff00"/>
<rect x="708" y="692" width="3" height="5" fill="#00ff00"/>
<rect x="724" y="692" width="3" height="3" fill="#00ff00"/>
<rect x="740" y="692" width="3" height="1" fill="#00ff00"/>
<rect x="756" y="691" width="3" height="1" fill="#00ff00"/>
<rect x="772" y="690" width="3" height="2" fill="#00ff00"/>
<rect x="788" y="689" width="3" height="3" fill="#00ff00"/>
<rect x="804" y="688" width="3" height="4" fill="#00ff00"/>
<rect x="820" y="688" width="3" height="4" fill="#00ff00"/>
<rect x="836" y="687" width="3" height="5" fill="#00ff00"/>
<rect x="852" y="687" width="3" height="5" fill="#00ff00"/>
<rect x="868" y="687" width="3" height="5" fill="#00ff00"/>
<rect x="884" y="685" width="3" height="7" fill="#00ff00"/>
<rect x="900" y="685" width="3" height="7" fill="#00ff00"/>
<rect x="916" y="682" width="3" height="10" fill="#00ff00"/>
<rect x="932" y="680" width="3" height="12" fill="#00ff00"/>
<rect x="948" y="678" width="3" height="14" fill="#00ff00"/>
<rect x="964" y="676" width="3" height="16" fill="#00ff00"/>
<rect x="980" y="674" width="3" height="18" fill="#00ff00"/>
<rect x="996" y="674" width="3" height="18" fill="#00ff00"/>
<rect x="1012" y="674" width="3" height="18" fill="#00ff00"/>
<rect x="1028" y="673" width="3" height="19" fill="#00ff00"/>
<rect x="1044" y="673" width="3" height="19" fill="#00ff00"/>
<rect x="1060" y="673" width="3" height="19" fill="#00ff00"/>
<rect x="1076" y="671" width="3" height="21" fill="#00ff00"/>
<rect x="1092" y="671" width="3" height="21" fill="#00ff00"/>
<rect x="1108" y="667" width="3" height="25" fill="#00ff00"/>
<rect x="1124" y="664" width="3" height="28" fill="#00ff00"/>
<rect x="1140" y="661" width="3" height="31" fill="#00ff00"/>
<rect x="1156" y="659" width="3" height="33" fill="#00ff00"/>
<rect x="1172" y="656" width="3" height="36" fill="#00ff00"/>
<rect x="1188" y="652" width="3" height="40" fill="#00ff00"/>
<rect x="1204" y="647" width="3" height="45" fill="#00ff00"/>
<rect x="1220" y="644" width="3" height="48" fill="#00ff00"/>
<rect x="1236" y="643" width="3" height="49" fill="#00ff00"/>
<rect x="1252" y="642" width="3" height="50" fill="#00ff00"/>
<rect x="1268" y="643" width="3" height="49" fill="#00ff00"/>
<rect x="1284" y="644" width="3" height="48" fill="#00ff00"/>
<rect x="1300" y="644" width="3" height="48" fill="#00ff00"/>
<rect x="1316" y="645" width="3" height="47" fill="#00ff00"/>
<rect x="1613" y="71" width="2" height="1" fill="#000"/>
<rect x="1613" y="203" width="2" height="1" fill="#000"/>
<rect x="1613" y="236" width="2" height="1" fill="#000"/>
<rect x="1613" y="269" width="2" height="1" fill="#000"/>
<rect x="1613" y="302" width="2" height="1" fill="#000"/>
<rect x="1613" y="335" width="2" height="1" fill="#000"/>
<rect x="1613" y="368" width="2" height="1" fill="#000"/>
<rect x="1613" y="401" width="2" height="1" fill="#000"/>
<rect x="1613" y="434" width="2" height="1" fill="#000"/>
<rect x="1613" y="467" width="2" height="1" fill="#000"/>
<rect x="1613" y="500" width="2" height="1" fill="#000"/>
<rect x="1613" y="533" width="2" height="1" fill="#000"/>
<rect x="1613" y="566" width="2" height="1" fill="#000"/>
<rect x="1613" y="599" width="2" height="1" fill="#000"/>
<rect x="1613" y="632" width="2" height="1" fill="#000"/>
<rect x="1613" y="692" width="2" height="1" fill="#000"/>
<rect x="1613" y="639" width="1" height="1" fill="#000"/>
<rect x="1613" y="725" width="1" height="1" fill="#000"/>
<rect x="1613" y="730" width="1" height="1" fill="#000"/>
<rect x="1613" y="811" width="1" height="1" fill="#000"/>
<rect x="5" y="813" width="1" height="3" fill="#000"/>
<rect x="69" y="813" width="1" height="3" fill="#000"/>
<rect x="133" y="813" width="1" height="3" fill="#000"/>
<rect x="197" y="813" width="1" height="3" fill="#000"/>
<rect x="261" y="813" width="1" height="3" fill="#000"/>
<rect x="325" y="813" width="1" height="3" fill="#000"/>
<rect x="389" y="813" width="1" height="3" fill="#000"/>
<rect x="453" y="813" width="1" height="3" fill="#000"/>
<rect x="517" y="813" width="1" height="3" fill="#000"/>
<rect x="581" y="813" width="1" height="3" fill="#000"/>
<rect x="645" y="813" width="1" height="3" fill="#000"/>
<rect x="709" y="813" width="1" height="3" fill="#000"/>
<rect x="773" y="813" width="1" height="3" fill="#000"/>
<rect x="837" y="813" width="1" height="3" fill="#000"/>
<rect x="901" y="813" width="1" height="3" fill="#000"/>
<rect x="965" y="813" width="1" height="3" fill="#000"/>
<rect x="1029" y="813" width="1" height="3" fill="#000"/>
<rect x="1093" y="813" width="1" height="3" fill="#000"/>
<rect x="1157" y="813" width="1" height="3" fill="#000"/>
<rect x="1221" y="813" width="1" height="3" fill="#000"/>
<rect x="1285" y="813" width="1" height="3" fill="#000"/>
</g>
<polyline points="5,704.8 21,705 37,708.1 53,710 69,712 85,713.9 101,714.9 117,715.8 133,716.8 149,717.8 165,717.8 181,717.8 197,716.4 213,715.4 229,713.5 245,711.2 261,709.2 277,707.1 293,705.4 309,703.6 325,701.9 341,700.9 357,700 373,699 389,698 405,699 421,699 437,700 453,700.9 469,701.9 485,704.4 501,705 517,706 533,706.9 549,707.9 565,708.9 581,709.8 597,710.8 613,710.8 629,710.8 645,710.8 661,710.8 677,709.6 693,708.1 709,706.2 725,704.4 741,702.5 757,700.9 773,699 789,696.9 805,694 821,693 837,692 853,690.9 869,689.9 885,688.9 901,687.4 917,686 933,685.1 949,684.1 965,682.9 981,681 997,680.2 1013,679.2 1029,677.1 1045,676.3 1061,675.6 1077,674 1093,673.6 1109,672.1 1125,671.1 1141,670.2 1157,668.4 1173,666.7 1189,664.6 1205,661.6 1221,658.6 1237,655.7 1253,652.9 1269,651 1285,649.1 1301,646.0 1318,645.9" fill="none" stroke="#ff0000" stroke-width="2" shape-rendering="crispEdges" stroke-linejoin="round"/>
<polyline points="5,777.7 21,780.6 37,788.7 53,788.7 69,787.8 85,781.6 101,779.6 117,776 133,777.7 149,777.7 165,775 181,775 197,779.1 213,771.9 229,769 245,771.5 261,768.6 277,768.2 293,766.7 309,771.4 325,775.8 341,775.8 357,776 373,777.7 389,777.7 405,777.7 421,776.7 437,777.7 453,776.5 469,779.6 485,784.9 501,780.8 517,781.8 533,781.8 549,782 565,783.9 581,777.9 597,777.7 613,777.3 629,776.4 645,773.5 661,769.6 677,765.8 693,769.6 709,766 725,765.8 741,765.8 757,769.2 773,765.8 789,769.2 805,766.7 821,766.7 837,767.7 853,767.7 869,766.7 885,762.9 901,764.9 917,759 933,758.4 949,757.1 965,755.9 981,755.7 997,760.5 1013,759 1029,759 1045,759 1061,755.9 1077,753.6 1093,752.8 1109,747 1125,746.4 1141,745.9 1157,745.5 1173,743.1 1189,741.3 1205,739.4 1221,739 1237,740 1253,743.6 1269,743.9 1285,747 1301,745.8 1317,745.8" fill="none" stroke="#1e90ff" stroke-width="2" shape-rendering="crispEdges" stroke-linejoin="round"/>
<line x1="6" y1="746.5" x2="1613" y2="746.5" stroke="#000" stroke-width="1" stroke-dasharray="3,3" shape-rendering="crispEdges"/>
<line x1="6" y1="770.5" x2="1613" y2="770.5" stroke="#000" stroke-width="1" stroke-dasharray="3,3" shape-rendering="crispEdges"/>
<line x1="6" y1="799.5" x2="1613" y2="799.5" stroke="#000" stroke-width="1" stroke-dasharray="3,3" shape-rendering="crispEdges"/>
<line x1="1243.8" y1="200.6" x2="1314" y2="168.4" stroke="#e8141c" stroke-width="2.7"/>
<polygon points="1308.6,161 1328.4,161.4 1316.2,177.2" fill="#e8141c"/>
<text x="20.8" y="40" fill="#000" font-size="9.7" textLength="41.5" lengthAdjust="spacingAndGlyphs">USOil,H4</text>
<text x="69.5" y="40" fill="#000" font-size="9.7" textLength="120.2" lengthAdjust="spacingAndGlyphs">85.895 86.111 85.732 85.857</text>
<rect x="5" y="37" width="1608" height="2" fill="#ff0000" shape-rendering="crispEdges"/>
<polygon points="7.5,34.5 15.5,34.5 11.5,38.8" fill="#000" shape-rendering="crispEdges"/>
<text x="1618.2" y="75" fill="#000" font-size="9.7" textLength="27.8" lengthAdjust="spacingAndGlyphs">86.250</text>
<text x="1618.2" y="108" fill="#000" font-size="9.7" textLength="27.8" lengthAdjust="spacingAndGlyphs">85.710</text>
<text x="1618.2" y="207" fill="#000" font-size="9.7" textLength="27.8" lengthAdjust="spacingAndGlyphs">84.075</text>
<text x="1618.2" y="240" fill="#000" font-size="9.7" textLength="27.8" lengthAdjust="spacingAndGlyphs">83.535</text>
<text x="1618.2" y="273" fill="#000" font-size="9.7" textLength="27.8" lengthAdjust="spacingAndGlyphs">82.980</text>
<text x="1618.2" y="306" fill="#000" font-size="9.7" textLength="27.8" lengthAdjust="spacingAndGlyphs">82.440</text>
<text x="1618.2" y="339" fill="#000" font-size="9.7" textLength="27.8" lengthAdjust="spacingAndGlyphs">81.900</text>
<text x="1618.2" y="372" fill="#000" font-size="9.7" textLength="27.8" lengthAdjust="spacingAndGlyphs">81.345</text>
<text x="1618.2" y="405" fill="#000" font-size="9.7" textLength="27.8" lengthAdjust="spacingAndGlyphs">80.805</text>
<text x="1618.2" y="438" fill="#000" font-size="9.7" textLength="27.8" lengthAdjust="spacingAndGlyphs">80.265</text>
<text x="1618.2" y="471" fill="#000" font-size="9.7" textLength="27.8" lengthAdjust="spacingAndGlyphs">79.710</text>
<text x="1618.2" y="504" fill="#000" font-size="9.7" textLength="27.8" lengthAdjust="spacingAndGlyphs">79.170</text>
<text x="1618.2" y="537" fill="#000" font-size="9.7" textLength="27.8" lengthAdjust="spacingAndGlyphs">78.630</text>
<text x="1618.2" y="570" fill="#000" font-size="9.7" textLength="27.8" lengthAdjust="spacingAndGlyphs">78.075</text>
<text x="1618.2" y="603" fill="#000" font-size="9.7" textLength="27.8" lengthAdjust="spacingAndGlyphs">77.535</text>
<text x="1618.2" y="636" fill="#000" font-size="9.7" textLength="27.8" lengthAdjust="spacingAndGlyphs">76.995</text>
<rect x="1614" y="32" width="36" height="11" fill="#ff0000" shape-rendering="crispEdges"/>
<rect x="1614" y="58" width="36" height="11" fill="#ff0000" shape-rendering="crispEdges"/>
<rect x="1614" y="90" width="36" height="11" fill="#000" shape-rendering="crispEdges"/>
<rect x="1614" y="104" width="36" height="11" fill="#00bfff" shape-rendering="crispEdges"/>
<rect x="1614" y="134" width="36" height="11" fill="#0000ff" shape-rendering="crispEdges"/>
<rect x="1614" y="166" width="36" height="11" fill="#0000ff" shape-rendering="crispEdges"/>
<text x="1618.2" y="41" fill="#fff" font-size="9.7" textLength="27.8" lengthAdjust="spacingAndGlyphs">86.807</text>
<text x="1618.2" y="67" fill="#fff" font-size="9.7" textLength="27.8" lengthAdjust="spacingAndGlyphs">86.365</text>
<text x="1618.2" y="99" fill="#fff" font-size="9.7" textLength="27.8" lengthAdjust="spacingAndGlyphs">85.857</text>
<text x="1618.2" y="113" fill="#fff" font-size="9.7" textLength="27.8" lengthAdjust="spacingAndGlyphs">85.608</text>
<text x="1618.2" y="143" fill="#fff" font-size="9.7" textLength="27.8" lengthAdjust="spacingAndGlyphs">85.119</text>
<text x="1618.2" y="175" fill="#fff" font-size="9.7" textLength="27.8" lengthAdjust="spacingAndGlyphs">84.585</text>
<text x="1616.3" y="648" fill="#000" font-size="9.7" textLength="27.5" lengthAdjust="spacingAndGlyphs">1.4731</text>
<text x="1616" y="696" fill="#000" font-size="9.7" textLength="18" lengthAdjust="spacingAndGlyphs">0.00</text>
<text x="1616" y="723" fill="#000" font-size="9.7" textLength="31" lengthAdjust="spacingAndGlyphs">-0.9417</text>
<text x="1615.5" y="739" fill="#000" font-size="9.7" textLength="15.8" lengthAdjust="spacingAndGlyphs">100</text>
<text x="1615" y="750" fill="#000" font-size="9.7" textLength="10.4" lengthAdjust="spacingAndGlyphs">80</text>
<text x="1615" y="774" fill="#000" font-size="9.7" textLength="10.4" lengthAdjust="spacingAndGlyphs">50</text>
<text x="1615.3" y="803" fill="#000" font-size="9.7" textLength="10.2" lengthAdjust="spacingAndGlyphs">15</text>
<text x="1615.8" y="809" fill="#000" font-size="9.7" textLength="5.2" lengthAdjust="spacingAndGlyphs">0</text>
<text x="9" y="650" fill="#000" font-size="9.7" textLength="128" lengthAdjust="spacingAndGlyphs">MACD(12,26,9) 1.2828 1.2917</text>
<text x="9" y="741" fill="#000" font-size="9.7" textLength="67.5" lengthAdjust="spacingAndGlyphs">RSI(14) 79.7496</text>
<text x="4.5" y="825" fill="#000" font-size="9.7" textLength="52.5" lengthAdjust="spacingAndGlyphs">16 Aug 2023</text>
<text x="68.5" y="825" fill="#000" font-size="9.7" textLength="55.5" lengthAdjust="spacingAndGlyphs">17 Aug 00:00</text>
<text x="132.5" y="825" fill="#000" font-size="9.7" textLength="55.5" lengthAdjust="spacingAndGlyphs">17 Aug 16:00</text>
<text x="196.5" y="825" fill="#000" font-size="9.7" textLength="55.5" lengthAdjust="spacingAndGlyphs">18 Aug 08:00</text>
<text x="260.5" y="825" fill="#000" font-size="9.7" textLength="55.5" lengthAdjust="spacingAndGlyphs">21 Aug 00:00</text>
<text x="324.5" y="825" fill="#000" font-size="9.7" textLength="55.5" lengthAdjust="spacingAndGlyphs">21 Aug 16:00</text>
<text x="388.5" y="825" fill="#000" font-size="9.7" textLength="55.5" lengthAdjust="spacingAndGlyphs">22 Aug 08:00</text>
<text x="452.5" y="825" fill="#000" font-size="9.7" textLength="55.5" lengthAdjust="spacingAndGlyphs">23 Aug 00:00</text>
<text x="516.5" y="825" fill="#000" font-size="9.7" textLength="55.5" lengthAdjust="spacingAndGlyphs">23 Aug 16:00</text>
<text x="580.5" y="825" fill="#000" font-size="9.7" textLength="55.5" lengthAdjust="spacingAndGlyphs">24 Aug 08:00</text>
<text x="644.5" y="825" fill="#000" font-size="9.7" textLength="55.5" lengthAdjust="spacingAndGlyphs">25 Aug 00:00</text>
<text x="708.5" y="825" fill="#000" font-size="9.7" textLength="55.5" lengthAdjust="spacingAndGlyphs">25 Aug 16:00</text>
<text x="772.5" y="825" fill="#000" font-size="9.7" textLength="55.5" lengthAdjust="spacingAndGlyphs">28 Aug 04:00</text>
<text x="836.5" y="825" fill="#000" font-size="9.7" textLength="55.5" lengthAdjust="spacingAndGlyphs">28 Aug 20:00</text>
<text x="900.5" y="825" fill="#000" font-size="9.7" textLength="55.5" lengthAdjust="spacingAndGlyphs">29 Aug 12:00</text>
<text x="964.5" y="825" fill="#000" font-size="9.7" textLength="55.5" lengthAdjust="spacingAndGlyphs">30 Aug 04:00</text>
<text x="1028.5" y="825" fill="#000" font-size="9.7" textLength="55.5" lengthAdjust="spacingAndGlyphs">30 Aug 20:00</text>
<text x="1092.5" y="825" fill="#000" font-size="9.7" textLength="55.5" lengthAdjust="spacingAndGlyphs">31 Aug 12:00</text>
<text x="1156.5" y="825" fill="#000" font-size="9.7" textLength="49.5" lengthAdjust="spacingAndGlyphs">1 Sep 04:00</text>
<text x="1220.5" y="825" fill="#000" font-size="9.7" textLength="49.5" lengthAdjust="spacingAndGlyphs">1 Sep 20:00</text>
<text x="1284.5" y="825" fill="#000" font-size="9.7" textLength="49.5" lengthAdjust="spacingAndGlyphs">4 Sep 08:00</text>
</svg></body></html>
